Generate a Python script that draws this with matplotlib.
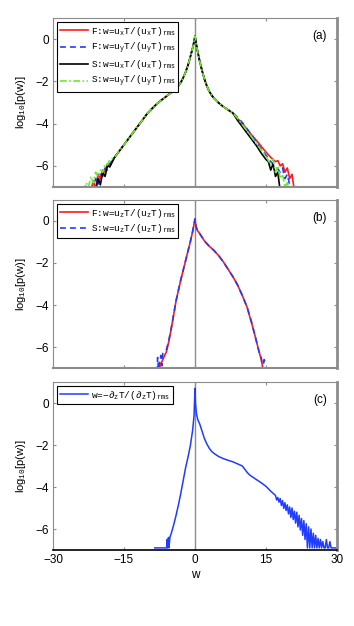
import matplotlib
matplotlib.use("Agg")
import matplotlib.pyplot as plt

plt.rcParams['font.family'] = ['Liberation Sans', 'DejaVu Sans']
plt.rcParams['mathtext.fontset'] = 'custom'
plt.rcParams['mathtext.rm'] = 'Liberation Mono'
plt.rcParams['mathtext.it'] = 'Liberation Mono'

# ---------------- data ----------------
xticks = [-30, -15, 0, 15, 30]
yticks = [-6, -4, -2, 0]

# panel (a): shared core between w=-17 and w=8
a_core_w = [-17, -16, -15, -14, -13, -12, -11, -10, -9, -8, -7, -6, -5, -4, -3.5, -3, -2.5, -2,
            -1.5, -1, -0.5, -0.2, 0, 0.2, 0.5, 1, 1.5, 2, 2.5, 3, 3.5, 4, 5, 6, 7, 8]
a_core_p = [-5.6, -5.3, -5.0, -4.7, -4.4, -4.1, -3.8, -3.5, -3.27, -3.05, -2.87, -2.7, -2.52,
            -2.35, -2.22, -2.05, -1.83, -1.57, -1.25, -0.85, -0.42, -0.12, 0.15, -0.15, -0.52,
            -1.05, -1.5, -1.9, -2.22, -2.47, -2.65, -2.8, -3.02, -3.2, -3.35, -3.5]

# F: w = u_x T/(u_x T)_rms  (red)
fx_left_w = [-22, -21.5, -21, -20.5, -20, -19.5, -19, -18.5, -18]
fx_left_p = [-7.2, -6.7, -7.1, -6.4, -6.6, -6.2, -6.3, -5.9, -5.95]
fx_right_w = [9, 10, 11, 12, 13, 14, 15, 16, 17, 17.5, 18, 18.5, 19, 19.5, 20, 20.5, 21]
fx_right_p = [-3.75, -4.0, -4.27, -4.55, -4.8, -5.08, -5.35, -5.6, -5.8, -5.75, -6.0, -5.9,
              -6.3, -6.1, -6.6, -6.4, -7.2]

# F: w = u_y T/(u_y T)_rms  (blue dashed)
fy_left_w = [-21.5, -21, -20.5, -20, -19.5, -19, -18.5, -18]
fy_left_p = [-7.2, -6.6, -6.9, -6.4, -6.5, -6.1, -6.2, -5.9]
fy_right_w = [9, 10, 11, 12, 13, 14, 15, 16, 17, 18, 18.5, 19, 19.5, 20, 20.5]
fy_right_p = [-3.7, -3.95, -4.25, -4.55, -4.9, -5.2, -5.5, -5.8, -6.0, -6.3, -6.1, -6.6,
              -6.4, -6.9, -7.2]

# S: w = u_x T/(u_x T)_rms  (black)
sx_left_w = [-21, -20.5, -20, -19.5, -19, -18.5, -18]
sx_left_p = [-7.2, -6.6, -6.9, -6.3, -6.5, -6.0, -6.05]
sx_right_w = [9, 10, 11, 12, 13, 14, 15, 15.5, 16, 16.5, 17, 17.5, 18]
sx_right_p = [-3.85, -4.15, -4.45, -4.75, -5.05, -5.4, -5.7, -5.8, -6.2, -5.9, -6.5, -6.3, -7.2]

# S: w = u_y T/(u_y T)_rms  (green dash-dot)
sy_left_w = [-23.5, -23, -22.5, -22, -21.5, -21, -20.5, -20, -19.5, -19, -18.5, -18]
sy_left_p = [-7.2, -6.8, -7.0, -6.5, -6.8, -6.3, -6.5, -6.2, -6.3, -5.9, -5.95, -5.7]
sy_right_w = [9, 10, 11, 12, 13, 14, 15, 16, 16.5, 17, 17.5, 18, 18.5, 19, 19.5, 20]
sy_right_p = [-3.75, -4.05, -4.35, -4.65, -4.95, -5.25, -5.55, -5.95, -5.7, -6.3, -6.0, -6.6,
              -6.4, -7.0, -6.8, -7.2]

# panel (b): F and S, w = u_z T/(u_z T)_rms
bf_w = [-7.6, -7.3, -7.0, -6.5, -6.0, -5.5, -5.0, -4.5, -4.0, -3.5, -3.0, -2.5, -2.0, -1.5,
        -1.0, -0.5, 0, 0.2, 0.5, 1, 2, 3, 4, 5, 6, 7, 8, 9, 10, 11, 12, 12.5, 13, 13.5,
        14, 14.5]
bf_p = [-7.2, -6.8, -6.7, -6.45, -6.2, -5.7, -5.1, -4.45, -3.8, -3.3, -2.8, -2.35, -1.9,
        -1.45, -1.0, -0.5, 0.1, -0.25, -0.45, -0.6, -0.95, -1.2, -1.4, -1.65, -1.95, -2.3,
        -2.65, -3.05, -3.55, -4.1, -4.9, -5.3, -5.75, -6.2, -6.6, -7.2]
bs_w = [-8.0, -7.9, -7.7, -7.5, -7.2, -7.0, -6.8, -6.5, -6.0, -5.5, -5.0, -4.5, -4.0, -3.5,
        -3.0, -2.5, -2.0, -1.5, -1.0, -0.5, 0, 0.2, 0.5, 1, 2, 3, 4, 5, 6, 7, 8, 9, 10, 11,
        12, 12.5, 13, 13.5, 14, 14.3, 14.6, 15.0]
bs_p = [-7.2, -6.5, -7.1, -6.7, -6.4, -6.9, -6.3, -6.2, -6.1, -5.65, -5.1, -4.45, -3.8, -3.3,
        -2.8, -2.35, -1.9, -1.45, -1.0, -0.5, 0.1, -0.25, -0.45, -0.6, -0.95, -1.2, -1.4,
        -1.65, -1.95, -2.3, -2.65, -3.05, -3.55, -4.1, -4.85, -5.3, -5.75, -6.2, -6.5, -7.1,
        -6.6, -6.85]

# panel (c): w = -d_z T/(d_z T)_rms
c_w = [-8.5, -6.0, -5.9, -5.8, -5.6, -5.5, -5.3, -5.0, -4.5, -4.0, -3.5, -3.0, -2.5,
       -2.0, -1.5, -1.0, -0.5, -0.2, 0, 0.1, 0.3, 0.6, 1, 1.5, 2, 2.5, 3, 3.5, 4, 5, 6, 7,
       8, 9, 10, 10.5, 11, 11.5, 12, 13, 14, 15, 16, 16.5,
       17.0, 17.25, 17.5, 17.75, 18.0, 18.25, 18.5, 18.75, 19.0, 19.25, 19.5, 19.75,
       20.0, 20.25, 20.5, 20.75, 21.0, 21.25, 21.5, 21.75, 22.0, 22.25, 22.5, 22.75,
       23.0, 23.25, 23.5, 23.75, 24.0, 24.25, 24.5, 24.75, 25.0, 25.25, 25.5, 25.75,
       26.0, 26.25, 26.5, 26.75, 27.0, 27.25, 27.5, 27.75, 28.0, 28.25, 28.5, 28.75,
       29.0, 29.25, 29.5, 29.75, 30.0]
c_p = [-6.9, -6.9, -6.5, -6.9, -6.4, -6.9, -6.4, -6.2, -5.8, -5.35, -4.85, -4.3, -3.7,
       -3.1, -2.6, -2.05, -1.3, -0.6, 0.7, 0.0, -0.5, -0.8, -1.0, -1.35, -1.7, -1.95, -2.15,
       -2.3, -2.4, -2.55, -2.65, -2.73, -2.8, -2.9, -3.0, -3.15, -3.3, -3.42, -3.5, -3.65,
       -3.8, -3.97, -4.2, -4.3,
       -4.40, -4.62, -4.50, -4.72, -4.55, -4.88, -4.65, -5.02, -4.75, -5.12, -4.85, -5.28,
       -4.95, -5.45, -5.00, -5.55, -5.15, -5.72, -5.20, -5.90, -5.35, -6.05, -5.50, -6.30,
       -5.60, -6.50, -5.75, -6.90, -5.90, -6.90, -6.00, -6.90, -6.20, -6.90, -6.30, -6.90,
       -6.45, -6.90, -6.50, -6.90, -6.60, -6.90, -6.90, -6.50, -6.90, -6.90, -6.60, -6.90,
       -6.90, -6.90, -6.90, -6.90, -6.90]

# ---------------- figure ----------------
fig = plt.figure(figsize=(3.54, 6.26), dpi=100)
left, width = 53 / 354, 284 / 354
ax_a = fig.add_axes([left, 1 - 187 / 626, width, 169 / 626])
ax_b = fig.add_axes([left, 1 - 368 / 626, width, 168 / 626])
ax_c = fig.add_axes([left, 1 - 550 / 626, width, 168 / 626])

gray = '#8c8c8c'
RED, BLUE, BLACK, GREEN = '#ff1a1a', '#1f3cff', '#000000', '#66ee22'

def style(ax, label, bottom_labels):
    ax.set_xlim(-30, 30)
    ax.set_ylim(-7, 1)
    ax.set_xticks(xticks)
    ax.set_yticks(yticks)
    ax.axvline(0, color=gray, lw=1.0, zorder=0)
    ax.tick_params(direction='in', top=True, right=True, length=2.5, width=0.8,
                   color=gray, labelsize=8.5, pad=3)
    if not bottom_labels:
        ax.tick_params(labelbottom=False)
    for s in ['left', 'top']:
        ax.spines[s].set_color(gray)
        ax.spines[s].set_linewidth(0.8)
    ax.spines['right'].set_color(gray)
    ax.spines['right'].set_linewidth(2.0)
    ax.spines['bottom'].set_color(gray)
    ax.spines['bottom'].set_linewidth(1.5)
    ax.set_ylabel(r'log$_{10}$[p(w)]', fontsize=8, labelpad=5,
                  family=['Liberation Sans', 'DejaVu Sans'])
    ax.text(0.94, 0.895, label, transform=ax.transAxes, ha='center', va='center', fontsize=8.5)

mono = ['Liberation Mono', 'DejaVu Sans Mono']

def leg(ax):
    lg = ax.legend(loc='upper left', prop={'family': mono, 'size': 6.8}, frameon=True,
                   fancybox=False, edgecolor='black', framealpha=1, handlelength=3.0,
                   borderaxespad=0.4, labelspacing=0.3, borderpad=0.3, handletextpad=0.3)
    lg.get_frame().set_linewidth(0.8)
    return lg

# (a)
style(ax_a, '(a)', False)
ax_a.plot(fx_left_w + a_core_w + fx_right_w, fx_left_p + a_core_p + fx_right_p, color=RED, lw=1.2,
          label=r'F:w=u$_\mathrm{x}$T/(u$_\mathrm{x}$T)$_\mathrm{rms}$')
ax_a.plot(fy_left_w + a_core_w + fy_right_w, fy_left_p + a_core_p + fy_right_p, color=BLUE, lw=1.2,
          ls=(0, (3.5, 2.5)), label=r'F:w=u$_\mathrm{y}$T/(u$_\mathrm{y}$T)$_\mathrm{rms}$')
ax_a.plot(sx_left_w + a_core_w + sx_right_w, sx_left_p + a_core_p + sx_right_p, color=BLACK, lw=1.2,
          label=r'S:w=u$_\mathrm{x}$T/(u$_\mathrm{x}$T)$_\mathrm{rms}$')
ax_a.plot(sy_left_w + a_core_w + sy_right_w, sy_left_p + a_core_p + sy_right_p, color=GREEN, lw=1.2,
          ls=(0, (4, 1.5, 1, 1.5)), label=r'S:w=u$_\mathrm{y}$T/(u$_\mathrm{y}$T)$_\mathrm{rms}$')
leg(ax_a)

# (b)
style(ax_b, '(b)', False)
ax_b.plot(bf_w, bf_p, color=RED, lw=1.2,
          label=r'F:w=u$_\mathrm{z}$T/(u$_\mathrm{z}$T)$_\mathrm{rms}$')
ax_b.plot(bs_w, bs_p, color=BLUE, lw=1.2, ls=(0, (3.5, 2.5)),
          label=r'S:w=u$_\mathrm{z}$T/(u$_\mathrm{z}$T)$_\mathrm{rms}$')
leg(ax_b)

# (c)
style(ax_c, '(c)', True)
ax_c.spines['bottom'].set_color('black')
ax_c.spines['bottom'].set_linewidth(1.2)
ax_c.plot(c_w, c_p, color=BLUE, lw=1.1,
          label=r'w=$-\partial_\mathrm{z}$T/($\partial_\mathrm{z}$T)$_\mathrm{rms}$')
ax_c.set_xlabel('w', fontsize=8.5, labelpad=2)
leg(ax_c)

fig.savefig('out.png', dpi=100)
